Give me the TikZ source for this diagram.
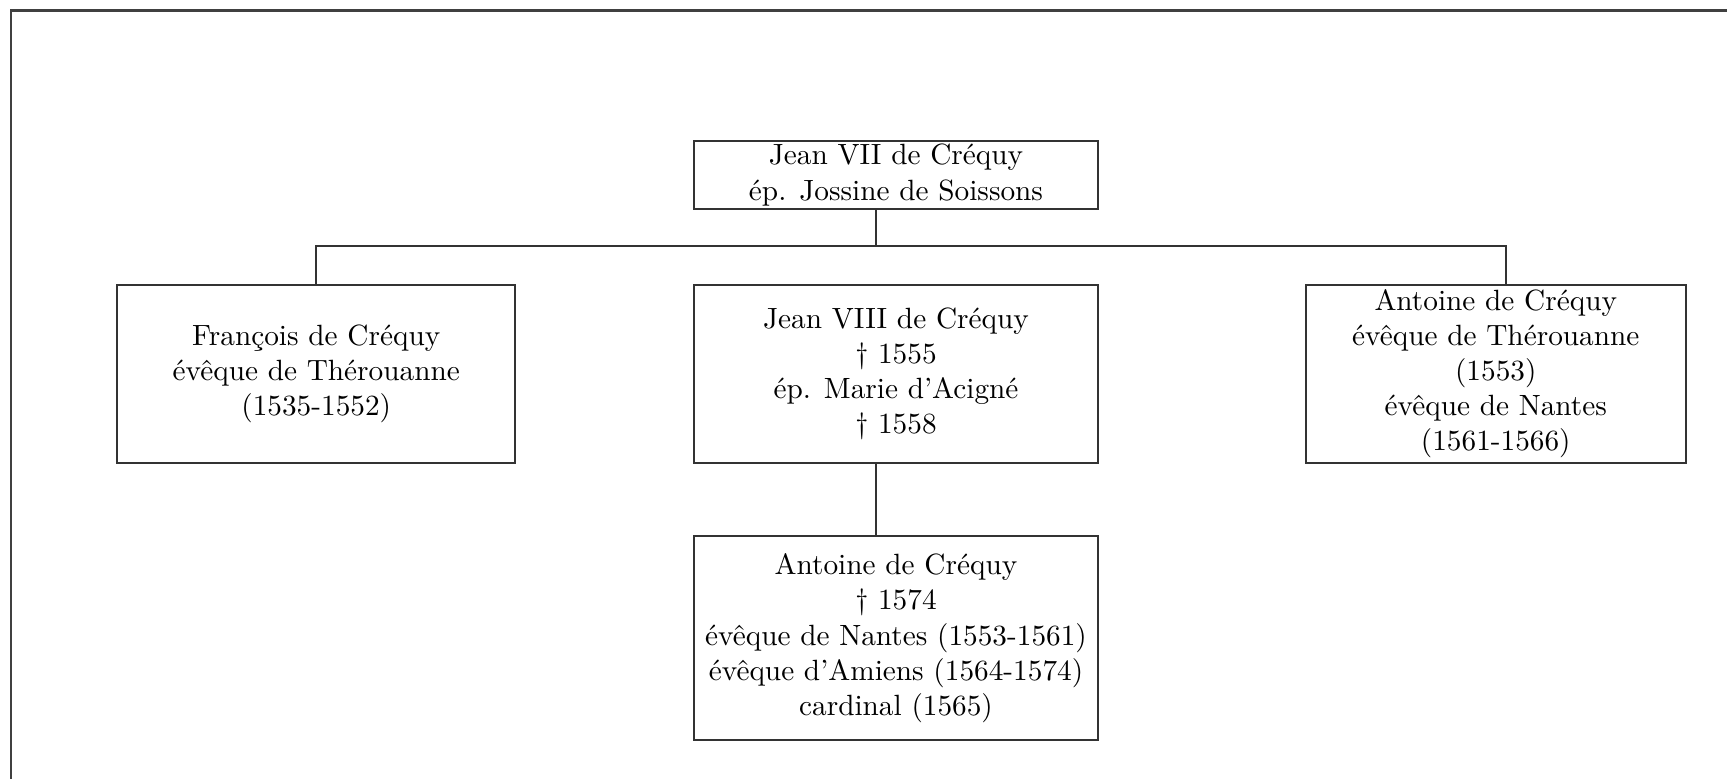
\documentclass[tikz,border=0pt]{standalone}
\usepackage{tikz}
\usetikzlibrary{positioning,calc}

\begin{document}
\begin{tikzpicture}[
    person/.style={rectangle, draw=black!80, line width=0.6pt, minimum width=4.848cm, minimum height=2.136cm, align=center, inner xsep=2pt, inner ysep=1pt},
    link/.style={draw=black!80, line width=0.6pt},
    frame/.style={draw=black!75, line width=0.7pt}
]
\useasboundingbox (0,0) rectangle (20.724,-9.348);
\draw[frame] (0.135,-9.348) -- (0.135,-0.126) -- (20.724,-0.126);

\node[person, minimum height=0.816cm] (jean7) at (10.752,-2.1) {Jean VII de Créquy\\ ép. Jossine de Soissons};
\node[person, below=0.888cm of jean7] (jean8) {Jean VIII de Créquy\\ \dag{} 1555\\ ép. Marie d'Acigné\\ \dag{} 1558};
\node[person, minimum width=4.776cm, left=2.124cm of jean8] (francois) {François de Créquy\\ évêque de Thérouanne\\ (1535-1552)};
\node[person, minimum width=4.56cm, right=2.472cm of jean8] (antoineT) {Antoine de Créquy\\ évêque de Thérouanne\\ (1553)\\ évêque de Nantes\\ (1561-1566)};
\node[person, minimum height=2.448cm, below=0.86cm of jean8] (antoineN) {Antoine de Créquy\\ \dag{} 1574\\ évêque de Nantes (1553-1561)\\ évêque d'Amiens (1564-1574)\\ cardinal (1565)};

\draw[link] ([xshift=-0.24cm]jean7.south) -- ++(0,-0.432) coordinate (bus);
\draw[link] (francois.north) |- (bus) -| ([xshift=0.12cm]antoineT.north);
\draw[link] ([xshift=-0.24cm]jean8.south) -- ([xshift=-0.24cm]antoineN.north);
\end{tikzpicture}
\end{document}
